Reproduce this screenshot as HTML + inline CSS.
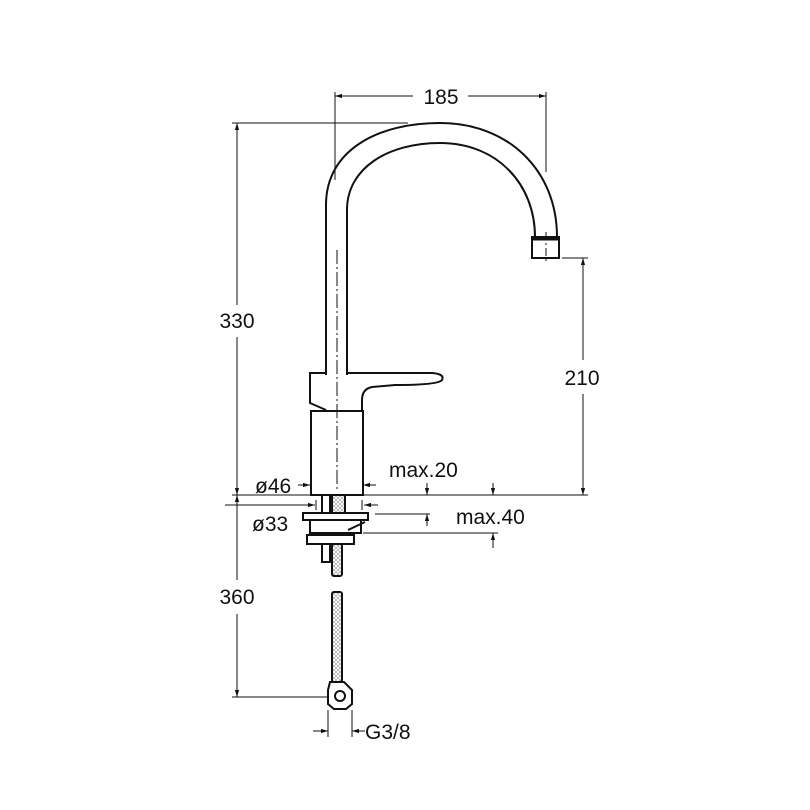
<!DOCTYPE html>
<html><head><style>
html,body{margin:0;padding:0;background:#fff;width:810px;height:810px;overflow:hidden}
svg{display:block}
text{font-family:"Liberation Sans",sans-serif;font-size:21px;fill:#111}
</style></head><body>
<svg width="810" height="810" viewBox="0 0 810 810" xmlns="http://www.w3.org/2000/svg">
<defs>
<marker id="a" viewBox="0 0 10 10" refX="10" refY="5" markerWidth="7" markerHeight="7" orient="auto-start-reverse"><path d="M0,2 L10,5 L0,8 z" fill="#111"/></marker>
<pattern id="h" width="4" height="4" patternUnits="userSpaceOnUse"><path d="M0,0 L4,4 M4,0 L0,4" stroke="#999" stroke-width="0.6"/></pattern>
</defs>
<g stroke="#111" stroke-width="1" fill="none">
<line x1="335" y1="92" x2="335" y2="180"/>
<line x1="546" y1="92" x2="546" y2="172"/>
<line x1="335" y1="96" x2="413" y2="96" marker-start="url(#a)"/>
<line x1="468" y1="96" x2="546" y2="96" marker-end="url(#a)"/>
<line x1="232" y1="123" x2="408" y2="123"/>
<line x1="237" y1="123" x2="237" y2="305" marker-start="url(#a)"/>
<line x1="237" y1="337" x2="237" y2="495" marker-end="url(#a)"/>
<line x1="232" y1="495" x2="310" y2="495"/>
<line x1="363" y1="495" x2="588" y2="495"/>
<line x1="237" y1="495" x2="237" y2="580" marker-start="url(#a)"/>
<line x1="237" y1="614" x2="237" y2="697" marker-end="url(#a)"/>
<line x1="232" y1="697" x2="328" y2="697"/>
<line x1="562" y1="258" x2="588" y2="258"/>
<line x1="583" y1="258" x2="583" y2="360" marker-start="url(#a)"/>
<line x1="583" y1="394" x2="583" y2="495" marker-end="url(#a)"/>
<line x1="427" y1="483" x2="427" y2="495" marker-end="url(#a)"/>
<line x1="493" y1="483" x2="493" y2="495" marker-end="url(#a)"/>
<line x1="375" y1="514" x2="430" y2="514"/>
<line x1="363" y1="533" x2="498" y2="533"/>
<line x1="427" y1="526" x2="427" y2="514" marker-end="url(#a)"/>
<line x1="493" y1="548" x2="493" y2="533" marker-end="url(#a)"/>
<line x1="298" y1="485" x2="310" y2="485" marker-end="url(#a)"/>
<line x1="376" y1="485" x2="363" y2="485" marker-end="url(#a)"/>
<line x1="225" y1="505" x2="304" y2="505"/>
<line x1="304" y1="505" x2="315" y2="505" marker-end="url(#a)"/>
<line x1="378" y1="505" x2="364" y2="505" marker-end="url(#a)"/>
<line x1="316" y1="500" x2="316" y2="510"/>
<line x1="362" y1="500" x2="362" y2="510"/>
<g stroke-width="2">
<path d="M326,375 L326,205 C326,150 378,123 440,123 C508,123 557,170 557,237"/>
<path d="M347,375 L347,210 C347,168 388,143 440,143 C498,143 535,185 535,237"/>
<rect x="532" y="237" width="27" height="21" fill="#fff"/>
<line x1="532" y1="239" x2="559" y2="239" stroke-width="3"/>
<path d="M326,373 L310,373 L310,403 L326,410"/>
<path d="M347,373 L432,373 Q445,374 442,380 Q438,385 395,385 L372,387 Q362,389 362,400 L362,410"/>
<rect x="311" y="411" width="52" height="84" fill="#fff"/>
<rect x="322" y="495" width="8" height="18"/>
<rect x="332" y="495" width="13" height="18" fill="url(#h)"/>
<rect x="303" y="513" width="65" height="7" fill="#fff"/>
<path d="M310,520 L310,533 L361,533 L361,520"/>
<path d="M348,530 L365,522"/>
<rect x="307" y="535" width="47" height="9" fill="#fff"/>
<rect x="322" y="544" width="8" height="18"/>
<rect x="332" y="544" width="10" height="32" fill="url(#h)" rx="2"/>
<rect x="332" y="592" width="10" height="90" fill="url(#h)" rx="2"/>
<path d="M330,682 L344,682 L352,690 L352,704 L346,709 L334,709 L328,704 L328,690 Z" fill="#fff"/>
<circle cx="340" cy="696" r="5"/>
</g>
<line x1="337" y1="250" x2="337" y2="490" stroke-dasharray="14,3,2,3"/>
<line x1="546" y1="232" x2="546" y2="262" stroke-dasharray="8,3,2,3"/>
<line x1="328" y1="710" x2="328" y2="737"/>
<line x1="352" y1="710" x2="352" y2="737"/>
<line x1="313" y1="731" x2="328" y2="731" marker-end="url(#a)"/>
<line x1="365" y1="731" x2="352" y2="731" marker-end="url(#a)"/>
</g>
<g text-anchor="middle">
<text x="441" y="104">185</text>
<text x="237" y="328">330</text>
<text x="582" y="385">210</text>
<text x="237" y="604">360</text>
</g>
<text x="255" y="493">ø46</text>
<text x="389" y="477">max.20</text>
<text x="252" y="531">ø33</text>
<text x="456" y="524">max.40</text>
<text x="365" y="739">G3/8</text>
</svg>
</body></html>
